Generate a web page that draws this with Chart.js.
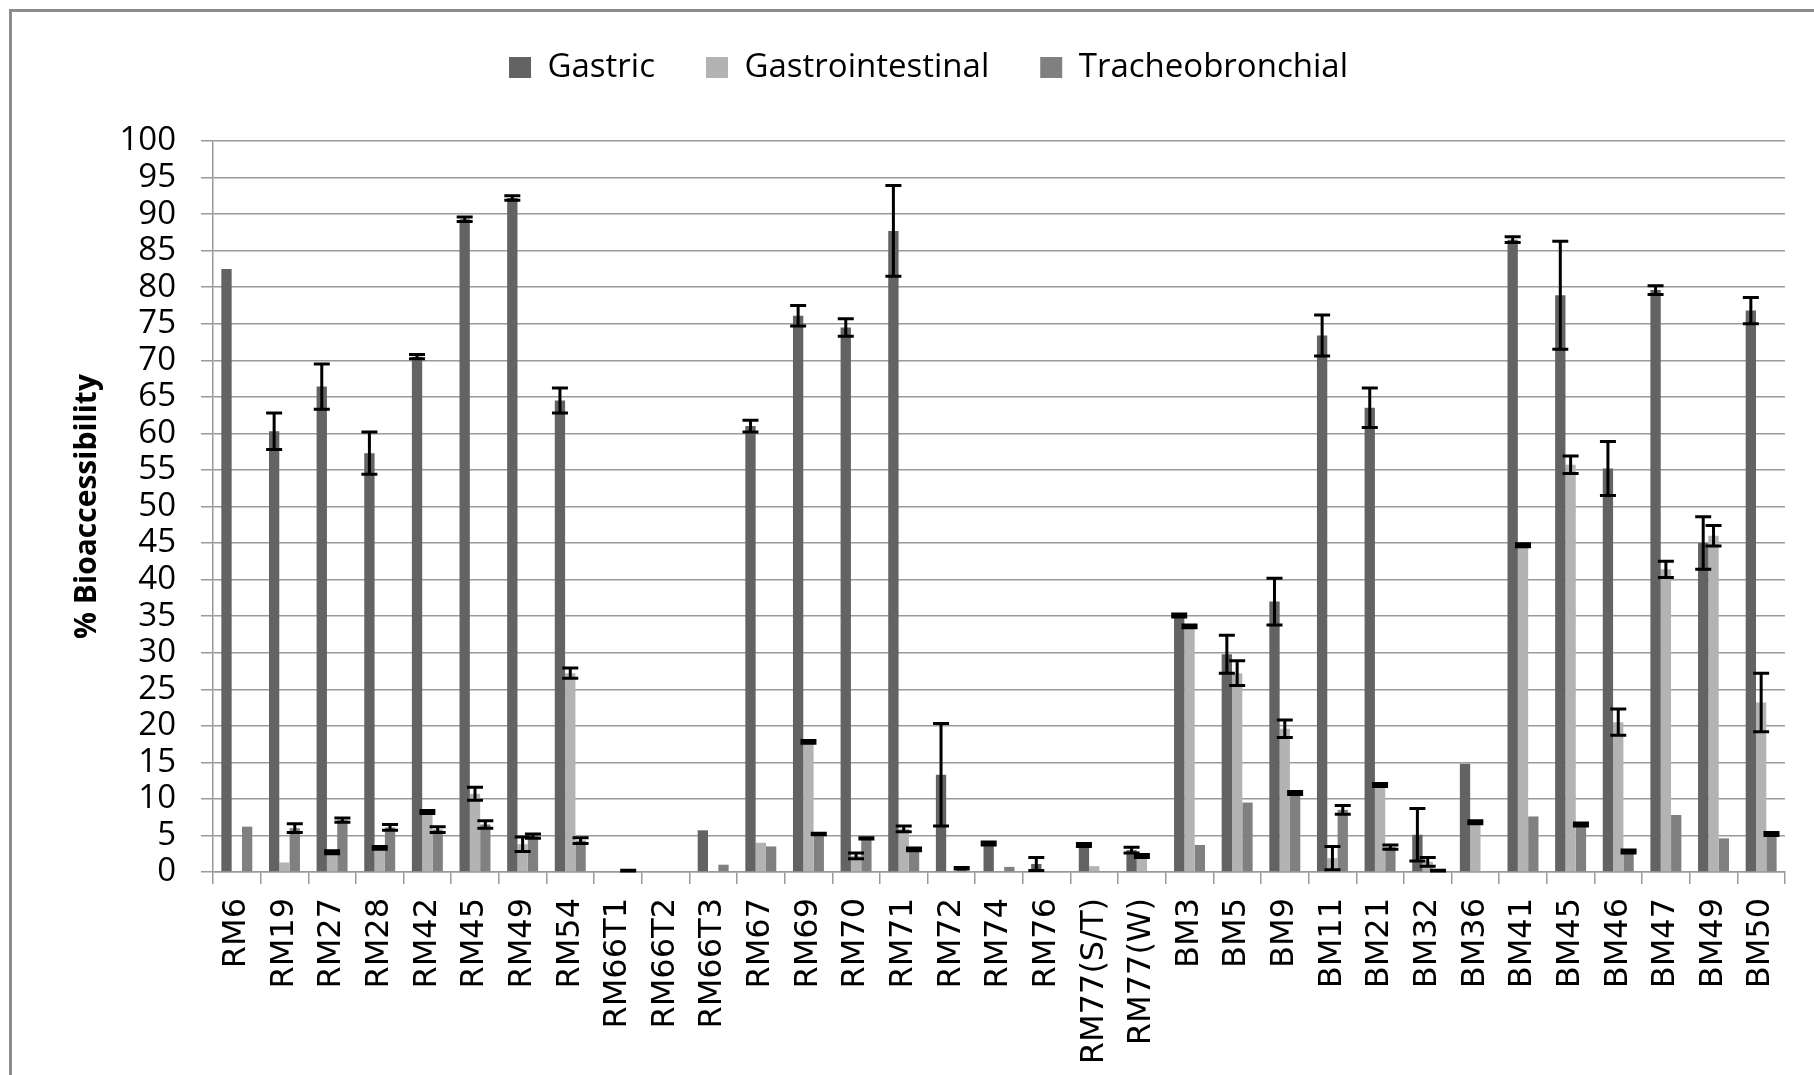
<!DOCTYPE html>
<html>
<head>
<meta charset="utf-8">
<title>% Bioaccessibility</title>
<script src="https://cdn.jsdelivr.net/npm/chart.js@4/dist/chart.umd.min.js"></script>
<style>
  html, body { margin: 0; padding: 0; background: #fff; overflow: hidden; }
  #frame { position: absolute; left: 9px; top: 9px; width: 2000px; height: 2000px;
           border-left: 3px solid #8c8c8c; border-top: 3px solid #8c8c8c; }
  #chart { position: absolute; left: 0; top: 0; }
</style>
</head>
<body>
<div id="frame"></div>
<canvas id="chart" width="1814" height="1075"></canvas>
<script>
const categories = ['RM6', 'RM19', 'RM27', 'RM28', 'RM42', 'RM45', 'RM49', 'RM54', 'RM66T1', 'RM66T2',
  'RM66T3', 'RM67', 'RM69', 'RM70', 'RM71', 'RM72', 'RM74', 'RM76', 'RM77(S/T)', 'RM77(W)',
  'BM3', 'BM5', 'BM9', 'BM11', 'BM21', 'BM32', 'BM36', 'BM41', 'BM45', 'BM46', 'BM47', 'BM49', 'BM50'];

const gastric = [82.5, 60.3, 66.4, 57.3, 70.5, 89.3, 92.2, 64.5, 0, 0,
  5.7, 61.0, 76.1, 74.5, 87.7, 13.3, 3.9, 1.1, 3.7, 3.0,
  35.1, 29.8, 37.0, 73.4, 63.5, 5.1, 14.8, 86.5, 78.9, 55.2, 79.6, 45.0, 76.8];
const gastricErr = [null, 2.5, 3.1, 2.9, 0.3, 0.3, 0.3, 1.7, null, null,
  null, 0.8, 1.4, 1.2, 6.2, 7.0, 0.2, 0.9, 0.2, 0.4,
  0.2, 2.6, 3.2, 2.8, 2.7, 3.6, null, 0.4, 7.4, 3.7, 0.6, 3.6, 1.8];

const gastrointestinal = [0, 1.3, 2.7, 3.3, 8.2, 10.7, 3.8, 27.2, 0, 0,
  0, 4.0, 17.8, 2.2, 5.9, 0, 0, 0, 0.8, 2.2,
  33.6, 27.2, 19.6, 1.9, 11.9, 1.4, 6.8, 44.7, 55.7, 20.5, 41.4, 46.0, 23.2];
const gastrointestinalErr = [null, null, 0.2, 0.2, 0.2, 0.9, 1.0, 0.7, null, null,
  null, null, 0.2, 0.4, 0.4, null, null, null, null, 0.2,
  0.2, 1.7, 1.2, 1.6, 0.2, 0.6, 0.2, 0.2, 1.2, 1.8, 1.1, 1.4, 4.0];

const tracheobronchial = [6.2, 6.0, 7.1, 6.1, 5.8, 6.5, 4.9, 4.3, 0.2, 0,
  1.0, 3.5, 5.2, 4.6, 3.1, 0.5, 0.7, 0, 0, 0,
  3.7, 9.5, 10.8, 8.5, 3.4, 0.2, 0, 7.6, 6.5, 2.8, 7.8, 4.6, 5.2];
const tracheobronchialErr = [null, 0.6, 0.3, 0.4, 0.4, 0.5, 0.3, 0.4, 0.05, null,
  null, null, 0.1, 0.1, 0.2, 0.1, null, null, null, null,
  null, null, 0.2, 0.6, 0.3, 0.05, null, null, 0.2, 0.2, null, null, 0.2];

const yMin = 0;
const yMax = 100;
const yStep = 5;

Chart.defaults.font.family = '"Open Sans", sans-serif';
Chart.defaults.color = '#000';

// draws the +/- error bars on top of each bar
const errorBars = {
  id: 'errorBars',
  afterDatasetsDraw(chart) {
    const ctx = chart.ctx;
    const y = chart.scales.y;
    chart.data.datasets.forEach((ds, i) => {
      const meta = chart.getDatasetMeta(i);
      if (!ds.errors) return;
      meta.data.forEach((bar, j) => {
        const e = ds.errors[j];
        if (e === null || e === undefined) return;
        const v = ds.data[j];
        const top = y.getPixelForValue(v + e);
        const bot = y.getPixelForValue(Math.max(v - e, 0));
        const half = 8;
        ctx.save();
        ctx.strokeStyle = '#000';
        ctx.lineWidth = 3;
        ctx.beginPath();
        ctx.moveTo(bar.x, top);
        ctx.lineTo(bar.x, bot);
        ctx.moveTo(bar.x - half, top);
        ctx.lineTo(bar.x + half, top);
        ctx.moveTo(bar.x - half, bot);
        ctx.lineTo(bar.x + half, bot);
        ctx.stroke();
        ctx.restore();
      });
    });
  }
};

// fixed legend height so the plot starts where the reference does
const legendSpace = {
  id: 'legendSpace',
  beforeInit(chart) {
    const fit = chart.legend.fit;
    chart.legend.fit = function () {
      fit.bind(chart.legend)();
      this.height = 141;
    };
  },
  afterLayout(chart) {
    chart.legend.left += 36;
    chart.legend.right += 36;
  }
};

new Chart(document.getElementById('chart'), {
  type: 'bar',
  data: {
    labels: categories,
    datasets: [
      { label: 'Gastric', data: gastric, errors: gastricErr, backgroundColor: '#636363' },
      { label: 'Gastrointestinal', data: gastrointestinal, errors: gastrointestinalErr, backgroundColor: '#b3b3b3' },
      { label: 'Tracheobronchial', data: tracheobronchial, errors: tracheobronchialErr, backgroundColor: '#808080' }
    ]
  },
  options: {
    responsive: false,
    animation: false,
    devicePixelRatio: 1,
    layout: { padding: { left: 0, right: 29, top: 0, bottom: 0 } },
    datasets: {
      bar: { categoryPercentage: 0.65, barPercentage: 1.0, borderWidth: 0 }
    },
    plugins: {
      legend: {
        position: 'top',
        labels: {
          boxWidth: 22,
          boxHeight: 21,
          padding: 51,
          color: '#000',
          font: { size: 33 }
        }
      },
      tooltip: { enabled: false }
    },
    scales: {
      x: {
        grid: {
          offset: true,
          drawOnChartArea: false,
          drawTicks: true,
          tickLength: 12,
          color: '#999',
          lineWidth: 1.5
        },
        border: { display: true, color: '#999', width: 1.5 },
        ticks: {
          autoSkip: false,
          minRotation: 90,
          maxRotation: 90,
          padding: 14,
          color: '#000',
          font: { family: '"DejaVu Sans", sans-serif', size: 32 }
        },
        afterFit(scale) { scale.height = 203; }
      },
      y: {
        min: yMin,
        max: yMax,
        grid: { color: '#9a9a9a', lineWidth: 1.5, tickLength: 12 },
        border: { display: true, color: '#999', width: 1.5 },
        ticks: {
          stepSize: yStep,
          autoSkip: false,
          padding: 25,
          color: '#000',
          font: { size: 33 }
        },
        title: {
          display: true,
          text: '% Bioaccessibility',
          color: '#000',
          font: { size: 30, weight: 'bold' },
          padding: { top: 69, bottom: 0 }
        },
        afterFit(scale) { scale.width = 213; }
      }
    }
  },
  plugins: [errorBars, legendSpace]
});
</script>
</body>
</html>
